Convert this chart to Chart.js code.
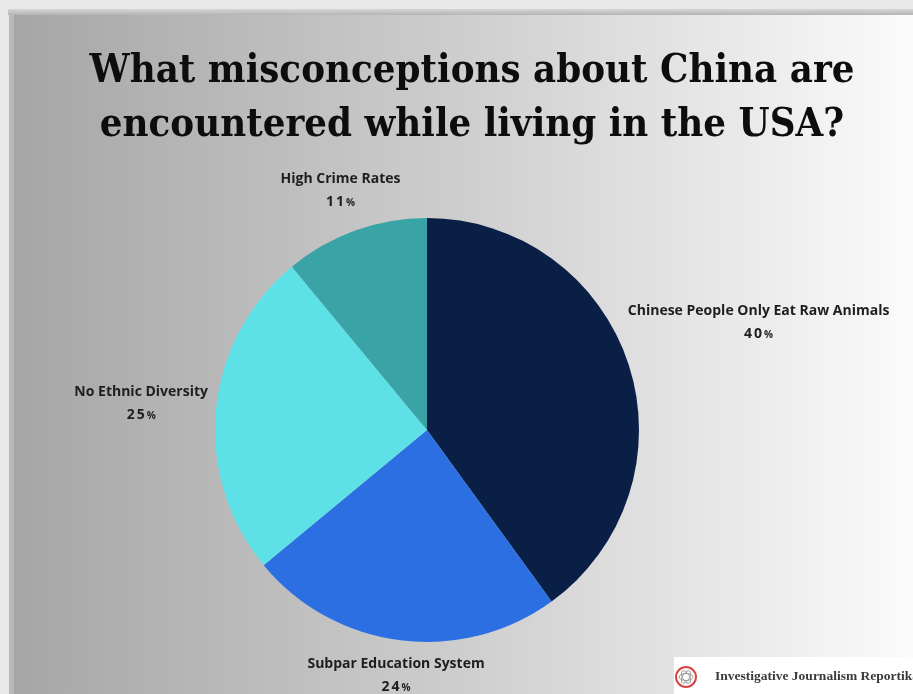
<!DOCTYPE html>
<html>
<head>
<meta charset="utf-8">
<title>Misconceptions about China</title>
<script src="https://cdn.jsdelivr.net/npm/chart.js@4.4.1/dist/chart.umd.min.js"></script>
<style>
  html, body { margin: 0; padding: 0; background: #e9e9e9; }
  #wrap { width: 913px; height: 694px; }
</style>
</head>
<body>
<div id="wrap"><canvas id="pieChart" width="913" height="694"></canvas></div>
<script>
// Survey answers, clockwise from 12 o'clock
const categories = [
    'Chinese People Only Eat Raw Animals',
    'Subpar Education System',
    'No Ethnic Diversity',
    'High Crime Rates'
];
const shares = [40, 24, 25, 11]; // percent of respondents
const sliceColors = ['#0a1f45', '#2c6fe2', '#5de0e6', '#39a3a6'];
const titleLines = [
    'What misconceptions about China are',
    'encountered while living in the USA?'
];
const sourceName = 'Investigative Journalism Reportika';

const labelFont = '"Open Sans"';

// Grey-to-white card behind everything
const backdrop = {
    id: 'backdrop',
    beforeDraw(chart) {
        const { ctx, width, height } = chart;
        ctx.save();
        ctx.fillStyle = '#e8e8e8';
        ctx.fillRect(0, 0, width, height);
        // shadow band along the top of the card
        const band = ctx.createLinearGradient(0, 9, 0, 15);
        band.addColorStop(0, '#d6d6d6');
        band.addColorStop(1, '#b4b4b4');
        ctx.fillStyle = band;
        ctx.fillRect(8, 9, width - 8, 6);
        ctx.fillStyle = '#b9b9b9';
        ctx.fillRect(9, 15, 5, height - 15);
        const g = ctx.createLinearGradient(14, 0, width, 0);
        g.addColorStop(0, '#a6a6a6');
        g.addColorStop(0.5, '#cecece');
        g.addColorStop(1, '#fbfbfb');
        ctx.fillStyle = g;
        ctx.fillRect(14, 15, width - 14, height - 15);
        ctx.restore();
    }
};

// Two-line serif heading, squeezed slightly to keep its width
const heading = {
    id: 'heading',
    afterDraw(chart) {
        const { ctx } = chart;
        const lineWidth = 765;
        ctx.save();
        ctx.fillStyle = '#0d0d0d';
        ctx.font = 'bold 40px "DejaVu Serif"';
        ctx.textAlign = 'center';
        ctx.textBaseline = 'alphabetic';
        const squeeze = lineWidth / ctx.measureText(titleLines[0]).width;
        ctx.translate(472, 0);
        ctx.scale(squeeze, 1);
        ctx.fillText(titleLines[0], 0, 82);
        ctx.fillText(titleLines[1], 0, 136);
        ctx.restore();
    }
};

// Category name + percentage outside each slice, along its mid angle
const sliceLabels = {
    id: 'sliceLabels',
    afterDatasetsDraw(chart) {
        const { ctx } = chart;
        const arcs = chart.getDatasetMeta(0).data;
        ctx.save();
        ctx.fillStyle = '#1e1e1e';
        ctx.textBaseline = 'middle';
        arcs.forEach((arc, i) => {
            const { x, y, startAngle, endAngle, outerRadius } = arc.getProps(
                ['x', 'y', 'startAngle', 'endAngle', 'outerRadius'], true);
            const mid = (startAngle + endAngle) / 2;
            const cos = Math.cos(mid), sin = Math.sin(mid);
            ctx.font = `bold 14px ${labelFont}`;
            const w = ctx.measureText(categories[i]).width;
            const h = 34;
            const dist = outerRadius + 7 + Math.abs(cos) * w / 2 + Math.abs(sin) * h / 2;
            const cx = x + cos * dist;
            const cy = y + sin * dist;

            ctx.textAlign = 'center';
            ctx.fillText(categories[i], cx, cy - 11);

            // value line: spaced digits with a smaller percent sign
            ctx.font = `bold 14px ${labelFont}`;
            ctx.letterSpacing = '2px';
            const num = String(shares[i]);
            const nw = ctx.measureText(num).width;
            ctx.font = `bold 10px ${labelFont}`;
            ctx.letterSpacing = '0px';
            const pw = ctx.measureText('%').width;
            const left = cx - (nw + pw) / 2;
            ctx.textAlign = 'left';
            ctx.font = `bold 14px ${labelFont}`;
            ctx.letterSpacing = '2px';
            ctx.fillText(num, left, cy + 12);
            ctx.font = `bold 10px ${labelFont}`;
            ctx.letterSpacing = '0px';
            ctx.fillText('%', left + nw, cy + 13);
        });
        ctx.restore();
    }
};

// Source badge in the bottom right corner
const sourceBadge = {
    id: 'sourceBadge',
    afterDraw(chart) {
        const { ctx, width, height } = chart;
        ctx.save();
        ctx.fillStyle = '#ffffff';
        ctx.fillRect(674, 657, width - 674, height - 657);
        // round red emblem with a grey knot inside
        ctx.strokeStyle = '#d94545';
        ctx.lineWidth = 2;
        ctx.beginPath();
        ctx.arc(686, 677, 10, 0, Math.PI * 2);
        ctx.stroke();
        ctx.strokeStyle = '#9a9a9a';
        ctx.lineWidth = 1;
        for (let k = 0; k < 3; k++) {
            ctx.beginPath();
            ctx.ellipse(686, 677, 7, 3.5, k * Math.PI / 3, 0, Math.PI * 2);
            ctx.stroke();
        }
        ctx.fillStyle = '#3a3a3a';
        ctx.font = 'bold 13.5px "Liberation Serif"';
        ctx.textAlign = 'left';
        ctx.textBaseline = 'middle';
        ctx.fillText(sourceName, 715, 677);
        ctx.restore();
    }
};

const ctx = document.getElementById('pieChart').getContext('2d');
const pieChart = new Chart(ctx, {
    type: 'pie',
    data: {
        labels: categories,
        datasets: [{
            data: shares,
            backgroundColor: sliceColors,
            borderWidth: 0
        }]
    },
    options: {
        responsive: false,
        animation: false,
        layout: {
            // places the pie at (427, 430) with a 212px radius
            padding: { left: 215, right: 274, top: 218, bottom: 52 }
        },
        plugins: {
            legend: { display: false },
            tooltip: { enabled: false },
            title: { display: false }
        }
    },
    plugins: [backdrop, sliceLabels, heading, sourceBadge]
});
</script>
</body>
</html>
